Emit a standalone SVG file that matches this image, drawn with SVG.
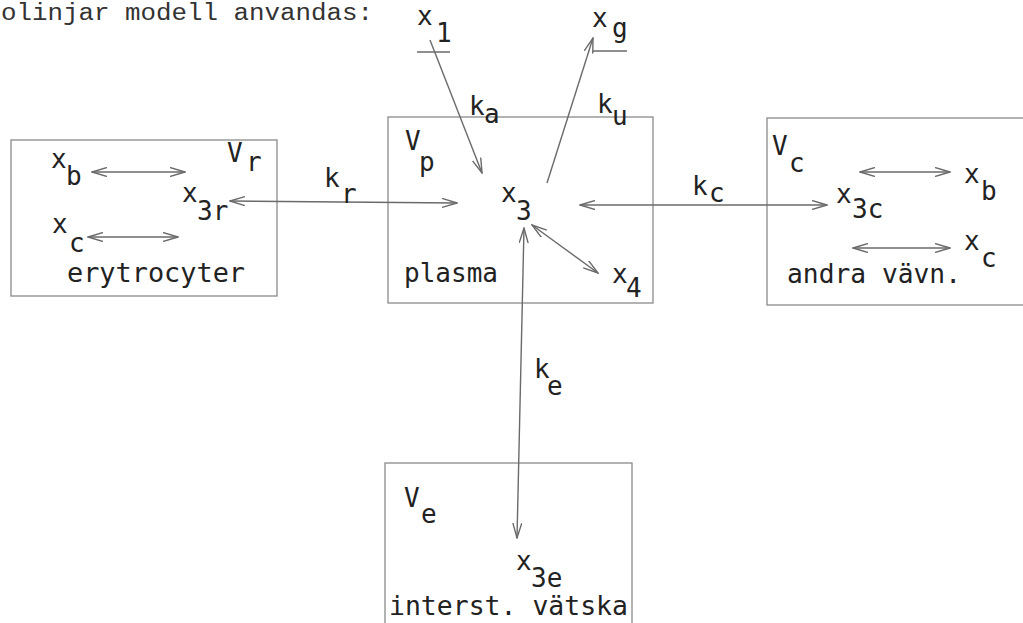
<svg xmlns="http://www.w3.org/2000/svg" width="1023" height="623" viewBox="0 0 1023 623">
<defs>
<style>
.bg{fill:#ffffff}
.box{fill:none;stroke:#8a8a8a;stroke-width:1.3}
.ln{fill:none;stroke:#6a6a6a;stroke-width:1.4}
.t{font-family:"DejaVu Sans Mono","Liberation Mono",monospace;font-size:26px;fill:#222}
.hd{font-family:"Liberation Mono","Courier New",monospace;font-size:23px;fill:#333}
</style>
<marker id="ah" viewBox="0 0 16 10" refX="15" refY="5" markerWidth="16" markerHeight="10" markerUnits="userSpaceOnUse" orient="auto-start-reverse">
<path d="M0,0.5 L15,5 L0,9.5" fill="none" stroke="#6a6a6a" stroke-width="1.4"/>
</marker>
</defs>
<rect class="bg" x="0" y="0" width="1023" height="623"/>
<text class="hd" x="1" y="20" textLength="372" lengthAdjust="spacingAndGlyphs">olinjar modell anvandas:</text>

<g id="erytrocyter">
<rect class="box" x="11" y="140" width="266" height="156"/>
<text class="t"><tspan x="227" y="162">V</tspan><tspan x="246" y="171">r</tspan></text>
<text class="t"><tspan x="51" y="168">x</tspan><tspan x="66" y="185">b</tspan></text>
<text class="t"><tspan x="182" y="202">x</tspan><tspan x="197" y="220">3r</tspan></text>
<text class="t"><tspan x="52" y="233">x</tspan><tspan x="69" y="252">c</tspan></text>
<text class="t" x="67" y="282" textLength="178" lengthAdjust="spacingAndGlyphs">erytrocyter</text>
</g>

<g id="plasma">
<rect class="box" x="388" y="117" width="265" height="186"/>
<text class="t"><tspan x="405" y="150">V</tspan><tspan x="419" y="171">p</tspan></text>
<text class="t"><tspan x="501" y="202">x</tspan><tspan x="516" y="220">3</tspan></text>
<text class="t"><tspan x="612" y="283">x</tspan><tspan x="626" y="297">4</tspan></text>
<text class="t" x="404" y="282" textLength="94" lengthAdjust="spacingAndGlyphs">plasma</text>
</g>

<g id="andra">
<rect class="box" x="767" y="118" width="270" height="187"/>
<text class="t"><tspan x="772" y="155">V</tspan><tspan x="789" y="172">c</tspan></text>
<text class="t"><tspan x="836" y="203">x</tspan><tspan x="852" y="218">3c</tspan></text>
<text class="t"><tspan x="964" y="183">x</tspan><tspan x="981" y="200">b</tspan></text>
<text class="t"><tspan x="964" y="250">x</tspan><tspan x="981" y="267">c</tspan></text>
<text class="t" x="787" y="283" textLength="174" lengthAdjust="spacingAndGlyphs">andra vävn.</text>
</g>

<g id="interst">
<rect class="box" x="385" y="463" width="247" height="175"/>
<text class="t"><tspan x="404" y="507">V</tspan><tspan x="421" y="523">e</tspan></text>
<text class="t"><tspan x="516" y="570">x</tspan><tspan x="531" y="587">3e</tspan></text>
<text class="t" x="389" y="615" textLength="239" lengthAdjust="spacingAndGlyphs">interst. vätska</text>
</g>

<g id="x1">
<text class="t"><tspan x="417" y="25">x</tspan><tspan x="436" y="42">1</tspan></text>
<line class="ln" x1="417" y1="52" x2="450" y2="52"/>
</g>

<g id="xg">
<text class="t"><tspan x="592" y="27">x</tspan><tspan x="612" y="37">g</tspan></text>
<line class="ln" x1="593" y1="51" x2="627" y2="51"/>
</g>

<g id="connectors">
<line class="ln" x1="430" y1="40" x2="482" y2="173" marker-end="url(#ah)"/>
<line class="ln" x1="547" y1="183" x2="593" y2="38" marker-end="url(#ah)"/>
<line class="ln" x1="230" y1="201" x2="457" y2="203" marker-start="url(#ah)" marker-end="url(#ah)"/>
<line class="ln" x1="580" y1="205" x2="827" y2="205" marker-start="url(#ah)" marker-end="url(#ah)"/>
<line class="ln" x1="532" y1="225" x2="598" y2="273" marker-start="url(#ah)" marker-end="url(#ah)"/>
<line class="ln" x1="524" y1="228" x2="517" y2="538" marker-start="url(#ah)" marker-end="url(#ah)"/>
<line class="ln" x1="92" y1="172" x2="185" y2="172" marker-start="url(#ah)" marker-end="url(#ah)"/>
<line class="ln" x1="88" y1="237" x2="178" y2="237" marker-start="url(#ah)" marker-end="url(#ah)"/>
<line class="ln" x1="860" y1="172" x2="950" y2="172" marker-start="url(#ah)" marker-end="url(#ah)"/>
<line class="ln" x1="853" y1="248" x2="950" y2="248" marker-start="url(#ah)" marker-end="url(#ah)"/>
<text class="t"><tspan x="469" y="115">k</tspan><tspan x="484" y="123">a</tspan></text>
<text class="t"><tspan x="597" y="113">k</tspan><tspan x="612" y="125">u</tspan></text>
<text class="t"><tspan x="324" y="187">k</tspan><tspan x="341" y="203">r</tspan></text>
<text class="t"><tspan x="692" y="195">k</tspan><tspan x="709" y="202">c</tspan></text>
<text class="t"><tspan x="534" y="378">k</tspan><tspan x="547" y="395">e</tspan></text>
</g>
</svg>
